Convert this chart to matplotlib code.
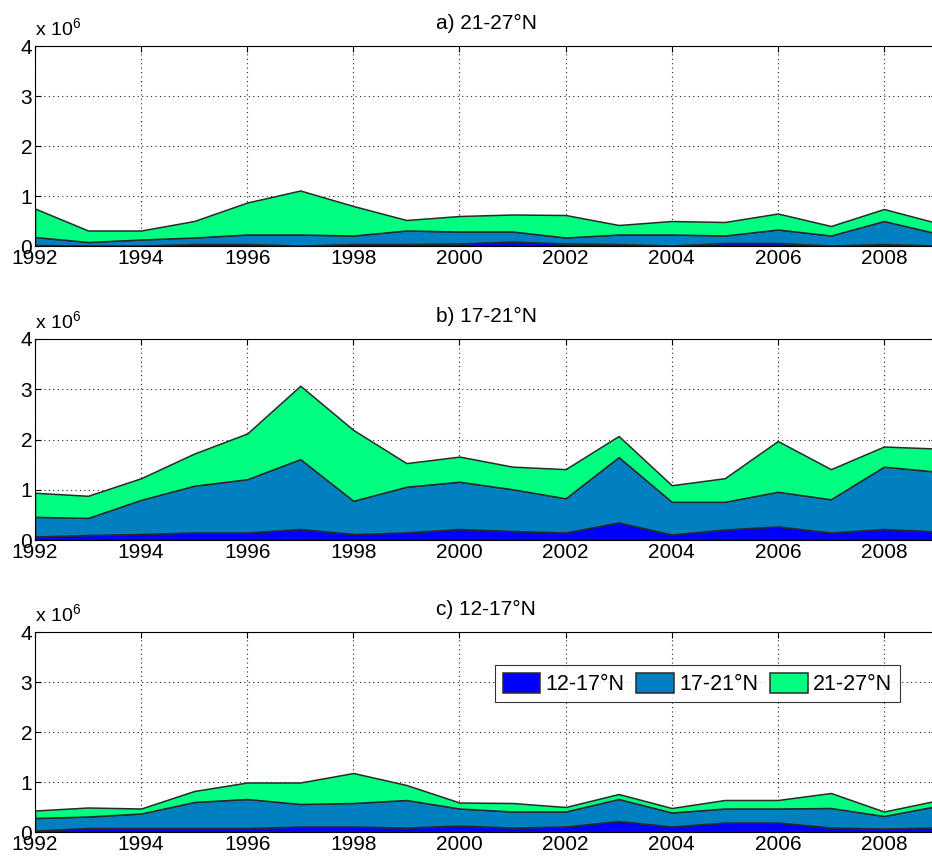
import numpy as np
import matplotlib
matplotlib.use("Agg")
import matplotlib.pyplot as plt

plt.rcParams["font.family"] = ["Liberation Sans", "DejaVu Sans"]
plt.rcParams["mathtext.default"] = "regular"

# yearly totals per latitude band, in units of 1e6
years = np.arange(1992, 2010)
band_labels = ["12-17°N", "17-21°N", "21-27°N"]
band_colors = ["#0000FF", "#0080C0", "#00FF80"]

# panel a) 21-27N
a_1217 = [0.02, 0.01, 0.01, 0.04, 0.04, 0.01, 0.04, 0.04, 0.05, 0.09, 0.05, 0.04, 0.01, 0.06, 0.06, 0.01, 0.04, 0.01]
a_1721 = [0.16, 0.07, 0.12, 0.13, 0.19, 0.22, 0.17, 0.27, 0.24, 0.20, 0.12, 0.19, 0.22, 0.15, 0.27, 0.20, 0.46, 0.24]
a_2127 = [0.57, 0.23, 0.18, 0.33, 0.64, 0.88, 0.59, 0.21, 0.31, 0.34, 0.45, 0.19, 0.27, 0.27, 0.32, 0.19, 0.24, 0.21]

# panel b) 17-21N
b_1217 = [0.07, 0.10, 0.12, 0.15, 0.15, 0.22, 0.12, 0.15, 0.22, 0.18, 0.15, 0.35, 0.11, 0.21, 0.27, 0.15, 0.22, 0.17]
b_1721 = [0.39, 0.34, 0.68, 0.93, 1.06, 1.39, 0.66, 0.91, 0.94, 0.83, 0.68, 1.30, 0.65, 0.55, 0.69, 0.66, 1.24, 1.19]
b_2127 = [0.48, 0.44, 0.43, 0.64, 0.91, 1.46, 1.41, 0.47, 0.50, 0.45, 0.58, 0.42, 0.33, 0.47, 1.01, 0.60, 0.40, 0.46]

# panel c) 12-17N
c_1217 = [0.03, 0.08, 0.08, 0.08, 0.08, 0.11, 0.11, 0.09, 0.13, 0.09, 0.11, 0.22, 0.11, 0.19, 0.19, 0.09, 0.07, 0.09]
c_1721 = [0.25, 0.23, 0.29, 0.52, 0.58, 0.45, 0.47, 0.55, 0.34, 0.32, 0.30, 0.44, 0.28, 0.28, 0.28, 0.39, 0.25, 0.43]
c_2127 = [0.15, 0.18, 0.10, 0.22, 0.33, 0.43, 0.60, 0.30, 0.12, 0.17, 0.09, 0.10, 0.09, 0.17, 0.17, 0.30, 0.09, 0.11]

panels = [
    ("a) 21-27°N", (a_1217, a_1721, a_2127)),
    ("b) 17-21°N", (b_1217, b_1721, b_2127)),
    ("c) 12-17°N", (c_1217, c_1721, c_2127)),
]

fig = plt.figure(figsize=(9.32, 8.63), dpi=100)
W, H = 932.0, 863.0
left, right = 35, 937
tops = [46, 339, 632]
bottoms = [246, 540, 832]

for (title, series), top, bot in zip(panels, tops, bottoms):
    ax = fig.add_axes([left / W, 1 - bot / H, (right - left) / W, (bot - top) / H])
    ax.stackplot(years, *series, colors=band_colors, labels=band_labels,
                 edgecolor="#2a2a2a", linewidth=1.1)
    ax.set_xlim(1992, 2009)
    ax.set_ylim(0, 4)
    ax.set_xticks(np.arange(1992, 2009, 2))
    ax.set_yticks(np.arange(0, 5, 1))
    ax.set_axisbelow(True)
    ax.grid(True, color="#222222", linestyle=(0, (1, 3)), linewidth=0.8)
    ax.tick_params(direction="in", top=True, right=True, labelsize=15,
                   length=4, width=0.8, pad=2)
    for s in ax.spines.values():
        s.set_linewidth(0.8)
        s.set_zorder(3)
    ax.set_title(title, fontsize=15, pad=12)
    ax.text(0.0, 1.035, r"x 10$^{6}$", transform=ax.transAxes,
            fontsize=14, ha="left", va="bottom")
    if title.startswith("c"):
        leg = ax.legend(loc="upper right", bbox_to_anchor=(0.959, 0.835),
                        ncol=3, fontsize=15.5, frameon=True, fancybox=False,
                        edgecolor="black", handlelength=1.75, handleheight=1.05,
                        handletextpad=0.25, columnspacing=0.55, borderpad=0.35,
                        borderaxespad=0)
        leg.get_frame().set_linewidth(0.8)
        leg.set_zorder(5)

fig.savefig("out.png", dpi=100)
